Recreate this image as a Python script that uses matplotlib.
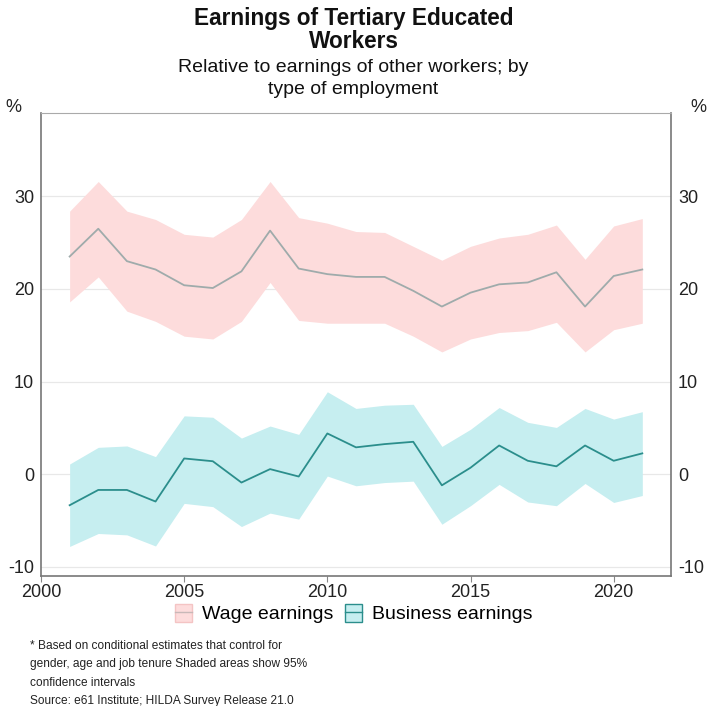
import numpy as np
import matplotlib.pyplot as plt
from matplotlib.patches import Patch
from matplotlib.lines import Line2D

plt.rcParams['font.family'] = ['Liberation Sans', 'DejaVu Sans']
plt.rcParams['axes.unicode_minus'] = False

years = list(range(2001, 2022))

wage_mid = [23.5, 26.5, 23.0, 22.1, 20.4, 20.1, 21.9, 26.3, 22.2, 21.6, 21.3,
            21.3, 19.8, 18.1, 19.6, 20.5, 20.7, 21.8, 18.1, 21.4, 22.1]
wage_hi = [28.4, 31.6, 28.4, 27.5, 25.9, 25.6, 27.5, 31.6, 27.7, 27.1, 26.2,
           26.1, 24.6, 23.1, 24.6, 25.5, 25.9, 26.9, 23.2, 26.8, 27.6]
wage_lo = [18.6, 21.3, 17.6, 16.5, 14.9, 14.6, 16.5, 20.7, 16.6, 16.3, 16.3,
           16.3, 14.9, 13.2, 14.6, 15.3, 15.5, 16.4, 13.2, 15.6, 16.3]

bus_mid = [-3.35, -1.7, -1.7, -2.95, 1.7, 1.4, -0.9, 0.55, -0.25, 4.4, 2.9,
           3.25, 3.5, -1.2, 0.7, 3.1, 1.45, 0.85, 3.1, 1.45, 2.25]
bus_hi = [1.1, 2.9, 3.05, 1.9, 6.3, 6.15, 3.9, 5.2, 4.3, 8.9, 7.1,
          7.45, 7.55, 3.0, 4.85, 7.2, 5.6, 5.05, 7.1, 5.95, 6.75]
bus_lo = [-7.8, -6.4, -6.55, -7.75, -3.15, -3.5, -5.65, -4.2, -4.85, -0.2, -1.25,
          -0.9, -0.75, -5.4, -3.4, -1.1, -3.0, -3.4, -1.0, -3.05, -2.3]

xticks = [2000, 2005, 2010, 2015, 2020]
yticks = [-10, 0, 10, 20, 30]

wage_fill = '#fddcdc'
wage_line = '#9fabab'
bus_fill = '#c6eef0'
bus_line = '#2b8e8c'

fig = plt.figure(figsize=(7.07, 7.06), dpi=100)
ax = fig.add_axes([0.058, 0.184, 0.891, 0.656])

ax.fill_between(years, wage_lo, wage_hi, color=wage_fill, lw=0)
ax.plot(years, wage_mid, color=wage_line, lw=1.3)
ax.fill_between(years, bus_lo, bus_hi, color=bus_fill, lw=0)
ax.plot(years, bus_mid, color=bus_line, lw=1.3)

ax.set_xlim(2000, 2022)
ax.set_ylim(-11, 39)
ax.set_xticks(xticks)
ax.set_yticks(yticks)
ax.grid(axis='y', color='#e8e8e8', lw=0.9)
ax.set_axisbelow(True)
ax.tick_params(axis='x', length=4, color='#888888', labelsize=13, labelcolor='#222222', pad=2)
ax.tick_params(axis='y', length=0, labelsize=13, labelcolor='#222222',
               left=True, right=True, labelleft=True, labelright=True, pad=5)
for side in ['left', 'right', 'bottom']:
    ax.spines[side].set_color('#777777')
    ax.spines[side].set_linewidth(1.2)
ax.spines['top'].set_color('#aaaaaa')
ax.spines['top'].set_linewidth(0.8)

fig.text(0.007, 0.848, '%', fontsize=13, color='#222222', va='center')
fig.text(0.999, 0.848, '%', fontsize=13, color='#222222', va='center', ha='right')

fig.text(0.5, 0.99, 'Earnings of Tertiary Educated\nWorkers', ha='center', va='top',
         fontsize=16.3, fontweight='bold', linespacing=1.02, color='#111111')
fig.text(0.5, 0.916, 'Relative to earnings of other workers; by\ntype of employment',
         ha='center', va='top', fontsize=14, linespacing=1.35, color='#111111')

handles = [
    (Patch(facecolor=wage_fill, edgecolor='#f4c4c4', lw=1), Line2D([], [], color='#c8b8b8', lw=1)),
    (Patch(facecolor=bus_fill, edgecolor=bus_line, lw=1), Line2D([], [], color=bus_line, lw=1)),
]
fig.legend(handles, ['Wage earnings', 'Business earnings'], loc='center',
           bbox_to_anchor=(0.5, 0.131), ncol=2, frameon=False, fontsize=14,
           handlelength=0.9, handleheight=1.1, handletextpad=0.5, columnspacing=0.6)

fig.text(0.042, 0.093,
         '* Based on conditional estimates that control for\n'
         'gender, age and job tenure Shaded areas show 95%\n'
         'confidence intervals\n'
         'Source: e61 Institute; HILDA Survey Release 21.0',
         ha='left', va='top', fontsize=8.6, linespacing=1.68, color='#222222')

fig.savefig('out.png', dpi=100)
